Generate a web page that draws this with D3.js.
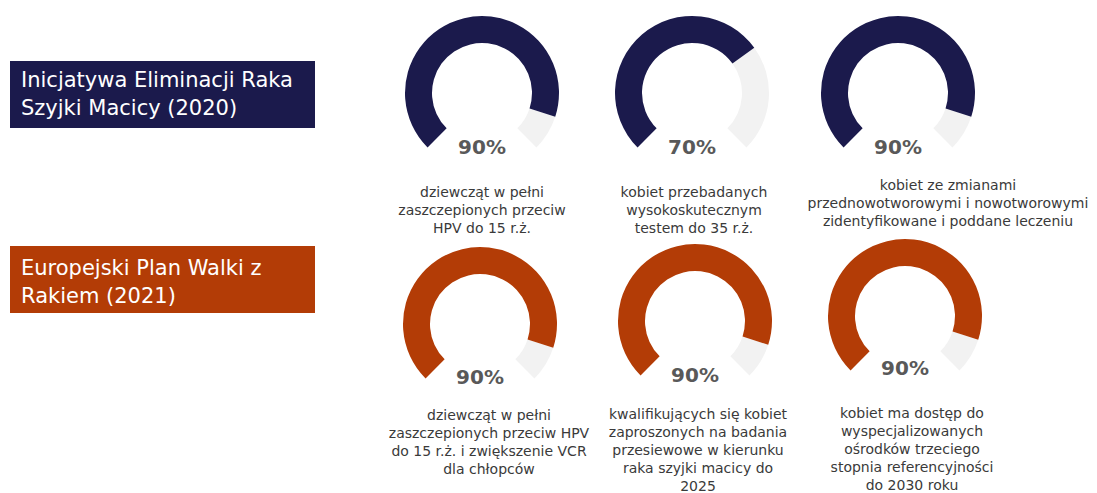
<!DOCTYPE html>
<html><head><meta charset="utf-8">
<script src="https://cdn.jsdelivr.net/npm/d3@7"></script>
<style>
html,body{margin:0;padding:0;background:#fff;}
svg{display:block;font-family:"DejaVu Sans",Verdana,sans-serif;}
</style></head>
<body><svg id="chart" width="1097" height="493"></svg>
<script>
// ---- data ----
const groupTitles = [
  ["Inicjatywa Eliminacji Raka", "Szyjki Macicy (2020)"],
  ["Europejski Plan Walki z", "Rakiem (2021)"]
];
const groupColors = ["#1b1a4c", "#b33c06"];
const valuesRow1 = [90, 70, 90];
const valuesRow2 = [90, 90, 90];
const descRow1 = [
  ["dziewcząt w pełni", "zaszczepionych przeciw", "HPV do 15 r.ż."],
  ["kobiet przebadanych", "wysokoskutecznym", "testem do 35 r.ż."],
  ["kobiet ze zmianami", "przednowotworowymi i nowotworowymi", "zidentyfikowane i poddane leczeniu"]
];
const descRow2 = [
  ["dziewcząt w pełni", "zaszczepionych przeciw HPV", "do 15 r.ż. i zwiększenie VCR", "dla chłopców"],
  ["kwalifikujących się kobiet", "zaproszonych na badania", "przesiewowe w kierunku", "raka szyjki macicy do", "2025"],
  ["kobiet ma dostęp do", "wyspecjalizowanych", "ośrodków trzeciego", "stopnia referencyjności", "do 2030 roku"]
];

// ---- layout ----
const svg = d3.select("#chart");
const rows = [
  {values: valuesRow1, desc: descRow1, color: groupColors[0],
   box: {x:10, y:61, w:305, h:67}, titleY:[87,115],
   centers:[[482,93],[692,93],[898,93]], pctY:[154,154,154],
   descX:[482,694,948], descY:[197,197,190]},
  {values: valuesRow2, desc: descRow2, color: groupColors[1],
   box: {x:10, y:246, w:305, h:67}, titleY:[275,303],
   centers:[[480,324],[695,321],[905,316]], pctY:[384,382,375],
   descX:[489,698,912], descY:[420,419,418]}
];

const angle = d3.scaleLinear().domain([0,100]).range([-3*Math.PI/4, 3*Math.PI/4]);
const outerR = 77, innerR = 50;
const arc = d3.arc().innerRadius(innerR).outerRadius(outerR);

rows.forEach((row, ri) => {
  // title box
  svg.append("rect").attr("x",row.box.x).attr("y",row.box.y)
    .attr("width",row.box.w).attr("height",row.box.h).attr("fill",row.color);
  svg.append("text").attr("fill","#fff").attr("font-size",21)
    .selectAll("tspan").data(groupTitles[ri]).join("tspan")
    .attr("x",21).attr("y",(d,i)=>row.titleY[i]).text(d=>d);

  row.values.forEach((v, gi) => {
    const [cx, cy] = row.centers[gi];
    const g = svg.append("g").attr("transform",`translate(${cx},${cy})`);
    g.append("path").attr("fill","#f2f2f2")
      .attr("d", arc({startAngle: angle(v), endAngle: angle(100)}));
    g.append("path").attr("fill",row.color)
      .attr("d", arc({startAngle: angle(0), endAngle: angle(v)}));
    svg.append("text").attr("x",cx).attr("y",row.pctY[gi])
      .attr("text-anchor","middle").attr("font-size",20).attr("font-weight","bold")
      .attr("fill","#595959").text(v + "%");
    svg.append("text").attr("text-anchor","middle").attr("font-size",14)
      .attr("fill","#3a3a3a")
      .selectAll("tspan").data(row.desc[gi]).join("tspan")
      .attr("x",row.descX[gi]).attr("y",(d,i)=>row.descY[gi] + i*18).text(d=>d);
  });
});
</script></body></html>
